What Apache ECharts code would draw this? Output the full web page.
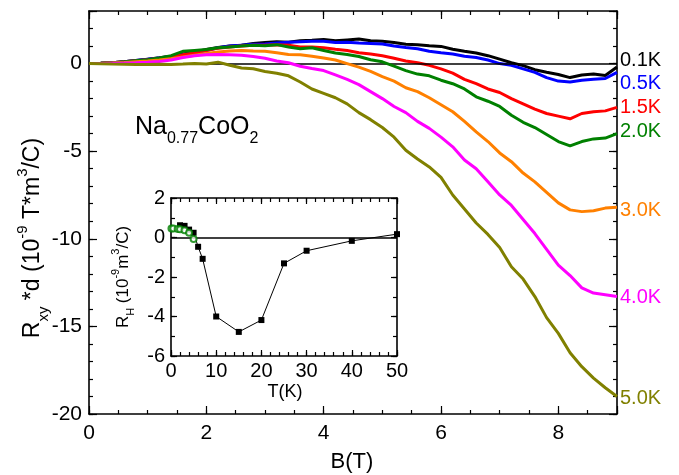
<!DOCTYPE html>
<html><head><meta charset="utf-8">
<script src="https://cdn.jsdelivr.net/npm/echarts@6/dist/echarts.min.js"></script>
<style>html,body{margin:0;padding:0;background:#fff}#c{width:679px;height:475px}</style>
</head><body><div id="c"></div>
<script>
// ---- data ----
const B = [0,0.2,0.4,0.6,0.8,1.0,1.2,1.4,1.6,1.8,2.0,2.2,2.4,2.6,2.8,3.0,3.2,3.4,3.6,3.8,4.0,4.2,4.4,4.6,4.8,5.0,5.2,5.4,5.6,5.8,6.0,6.2,6.4,6.6,6.8,7.0,7.2,7.4,7.6,7.8,8.0,8.2,8.4,8.6,8.8,9.0];
const R_01K = [0,0.02,0.05,0.1,0.17,0.25,0.33,0.42,0.55,0.65,0.8,0.92,1.0,1.05,1.15,1.2,1.25,1.22,1.3,1.33,1.37,1.3,1.35,1.4,1.3,1.27,1.2,1.1,1.08,1.02,0.98,0.82,0.7,0.6,0.45,0.25,0.05,-0.12,-0.35,-0.5,-0.62,-0.8,-0.65,-0.6,-0.68,-0.2];
const R_05K = [0,0.02,0.05,0.1,0.17,0.24,0.32,0.4,0.5,0.6,0.75,0.9,1.0,1.05,1.1,1.12,1.18,1.22,1.25,1.27,1.27,1.2,1.22,1.18,1.15,1.12,1.0,0.92,0.85,0.7,0.62,0.55,0.42,0.35,0.2,0.0,-0.1,-0.3,-0.5,-0.8,-1.0,-1.05,-0.95,-0.9,-0.85,-0.5];
const R_15K = [0,0.02,0.05,0.1,0.16,0.22,0.3,0.4,0.5,0.62,0.75,0.88,0.95,1.0,1.05,1.05,1.08,1.05,0.95,0.95,0.9,0.82,0.75,0.62,0.55,0.45,0.3,0.15,0.05,-0.1,-0.3,-0.55,-0.9,-1.15,-1.45,-1.65,-2.0,-2.3,-2.6,-2.85,-3.0,-3.15,-2.85,-2.75,-2.7,-2.5];
const R_20K = [0,0.02,0.05,0.1,0.16,0.22,0.32,0.45,0.7,0.75,0.8,0.9,0.95,1.0,1.05,1.02,1.08,0.95,0.85,0.9,0.75,0.6,0.52,0.4,0.22,0.1,-0.15,-0.4,-0.6,-0.7,-0.95,-1.15,-1.45,-1.9,-2.15,-2.45,-2.95,-3.35,-3.65,-4.05,-4.45,-4.7,-4.45,-4.3,-4.25,-4.0];
const R_30K = [0,0.01,0.03,0.06,0.1,0.14,0.2,0.28,0.38,0.48,0.58,0.66,0.72,0.75,0.72,0.7,0.62,0.52,0.5,0.42,0.32,0.2,0.0,-0.2,-0.45,-0.75,-1.0,-1.38,-1.6,-1.95,-2.35,-2.75,-3.3,-3.9,-4.45,-5.1,-5.6,-6.25,-6.75,-7.35,-7.95,-8.35,-8.45,-8.4,-8.25,-8.2];
const R_40K = [0,0.0,0.02,0.03,0.05,0.08,0.12,0.2,0.35,0.45,0.5,0.52,0.5,0.48,0.4,0.3,0.15,0.05,-0.15,-0.28,-0.4,-0.65,-0.9,-1.2,-1.6,-2.0,-2.45,-2.8,-3.3,-3.7,-4.2,-4.75,-5.5,-6.0,-6.75,-7.5,-8.1,-8.9,-9.7,-10.6,-11.5,-12.1,-12.8,-13.1,-13.2,-13.3];
const R_50K = [0,-0.01,-0.03,-0.04,-0.05,-0.05,-0.04,-0.05,-0.03,0.0,-0.02,0.08,-0.1,-0.25,-0.3,-0.45,-0.55,-0.7,-1.05,-1.45,-1.7,-1.95,-2.3,-2.8,-3.2,-3.65,-4.2,-4.95,-5.45,-5.9,-6.5,-7.5,-8.3,-9.1,-9.75,-10.5,-11.6,-12.3,-13.3,-14.5,-15.4,-16.5,-17.3,-17.95,-18.5,-19.0];
const seriesNames = ['0.1K','0.5K','1.5K','2.0K','3.0K','4.0K','5.0K'];
const seriesColors = ['#000000','#0000ff','#ff0000','#008000','#ff8000','#ff00ff','#808000'];
const seriesData = [R_01K,R_05K,R_15K,R_20K,R_30K,R_40K,R_50K];
// inset
const T_sq = [2,3,4,5,6,7,10,15,20,25,30,40,50];
const RH_sq = [0.62,0.59,0.4,0.24,-0.47,-1.08,-4.0,-4.78,-4.18,-1.31,-0.67,-0.17,0.17];
const T_ci = [0.1,0.5,1.5,2.0,3.0,4.0,5.0];
const RH_ci = [0.45,0.45,0.43,0.42,0.37,0.24,-0.07];
// ticks
const mainXTicks = [0,2,4,6,8];
const mainYTicks = [-20,-15,-10,-5,0];

const FF = 'Liberation Sans, Arial, Helvetica, sans-serif';
function ax(grid, pos, min, max, interval, len, labelShow, fs, fmt, lineShow, margin) {
  return {
    type:'value', gridIndex:grid, position:pos, min:min, max:max, interval:interval,
    axisLine:{show:lineShow, onZero:false, lineStyle:{color:'#000', width:1.6}},
    axisTick:{show:true, inside:true, length:len, lineStyle:{color:'#000', width:1.2}},
    axisLabel:{show:labelShow, fontSize:fs, color:'#000', fontFamily:FF, margin:margin||8, formatter:fmt},
    splitLine:{show:false}
  };
}
const fmtX = v => mainXTicks.indexOf(v) >= 0 ? String(v) : '';
const fmtY = v => mainYTicks.indexOf(v) >= 0 ? String(v) : '';

const xAxes = [
  ax(0,'bottom',0,9,2,8,true,21,fmtX,true,9),
  ax(0,'bottom',0,9,0.5,4,false,21,null,false),
  ax(0,'top',0,9,2,8,false,21,null,true),
  ax(0,'top',0,9,0.5,4,false,21,null,false),
  ax(1,'bottom',0,50,10,6,true,20,null,true,5),
  ax(1,'bottom',0,50,2,4,false,20,null,false),
  ax(1,'top',0,50,10,6,false,20,null,true),
  ax(1,'top',0,50,2,4,false,20,null,false)
];
const yAxes = [
  ax(0,'left',-20,3,5,8,true,21,fmtY,true,7),
  ax(0,'left',-20,3,1,4,false,21,null,false),
  ax(0,'right',-20,3,5,8,false,21,null,true),
  ax(0,'right',-20,3,1,4,false,21,null,false),
  ax(1,'left',-6,2,2,6,true,20,null,true,6),
  ax(1,'left',-6,2,1,4,false,20,null,false),
  ax(1,'right',-6,2,2,6,false,20,null,true),
  ax(1,'right',-6,2,1,4,false,20,null,false)
];

const series = seriesData.map((arr, k) => ({
  type:'line', name:seriesNames[k], xAxisIndex:0, yAxisIndex:0,
  data: B.map((b,i)=>[b, arr[i]]), showSymbol:false, silent:true,
  lineStyle:{width:3, color:seriesColors[k]}, itemStyle:{color:seriesColors[k]},
  z: 2 + k,
  markLine: k === 0 ? {silent:true, symbol:'none', label:{show:false}, animation:false,
    lineStyle:{color:'#000', width:1.5, type:'solid'}, data:[{yAxis:0}]} : undefined
}));
series.push({
  type:'line', xAxisIndex:4, yAxisIndex:4, data:T_sq.map((t,i)=>[t,RH_sq[i]]),
  symbol:'rect', symbolSize:6, showSymbol:true, silent:true, clip:false,
  lineStyle:{width:1, color:'#000'}, itemStyle:{color:'#000'}, z:20,
  markLine:{silent:true, symbol:'none', label:{show:false}, animation:false,
    lineStyle:{color:'#000', width:1.5, type:'solid'}, data:[{yAxis:0}]}
});
series.push({
  type:'scatter', xAxisIndex:4, yAxisIndex:4, data:T_ci.map((t,i)=>[t,RH_ci[i]]),
  symbol:'emptyCircle', symbolSize:6, silent:true, clip:false,
  itemStyle:{color:'#008000', borderColor:'#008000', borderWidth:1}, z:21
});

const rich = (fs, sfs) => ({
  a:{fontSize:fs, fontFamily:FF, color:'#000', lineHeight:Math.round(fs*1.55)},
  s:{fontSize:sfs, fontFamily:FF, color:'#000', lineHeight:Math.round(fs*0.95), verticalAlign:'bottom'},
  p:{fontSize:sfs, fontFamily:FF, color:'#000', lineHeight:Math.round(fs*0.95), verticalAlign:'top'}
});

const labelY = [60, 83, 107, 131, 210, 297, 398];
const graphic = [
  {type:'text', x:33, y:238, rotation:Math.PI/2, z:50,
   style:{text:'{a|R}{s|xy}{a| *d (10}{p|-9}{a| T*m}{p|3}{a|/C)}', rich:rich(23,15), align:'center', verticalAlign:'middle'}},
  {type:'text', x:352, y:462, z:50,
   style:{text:'B(T)', fontSize:22, fontFamily:FF, fill:'#000', align:'center', verticalAlign:'middle'}},
  {type:'text', x:135, y:127, z:50,
   style:{text:'{a|Na}{s|0.77}{a|CoO}{s|2}', rich:rich(25,16), align:'left', verticalAlign:'middle'}},
  {type:'text', x:123, y:277, rotation:Math.PI/2, z:50,
   style:{text:'{a|R}{s|H}{a| (10}{p|-9}{a|m}{p|3}{a|/C)}', rich:rich(17,11), align:'center', verticalAlign:'middle'}},
  {type:'text', x:285, y:392, z:50,
   style:{text:'T(K)', fontSize:18, fontFamily:FF, fill:'#000', align:'center', verticalAlign:'middle'}}
];
seriesNames.forEach((n,k) => graphic.push({type:'text', x:620, y:labelY[k], z:50,
  style:{text:n, fontSize:20, fontFamily:FF, fill:seriesColors[k], align:'left', verticalAlign:'middle'}}));

const chart = echarts.init(document.getElementById('c'));
chart.setOption({
  animation:false,
  backgroundColor:'#fff',
  grid:[{left:89, top:11, width:528, height:403}, {left:171, top:198, width:226, height:158}],
  xAxis:xAxes, yAxis:yAxes, series:series, graphic:graphic
});
</script></body></html>
